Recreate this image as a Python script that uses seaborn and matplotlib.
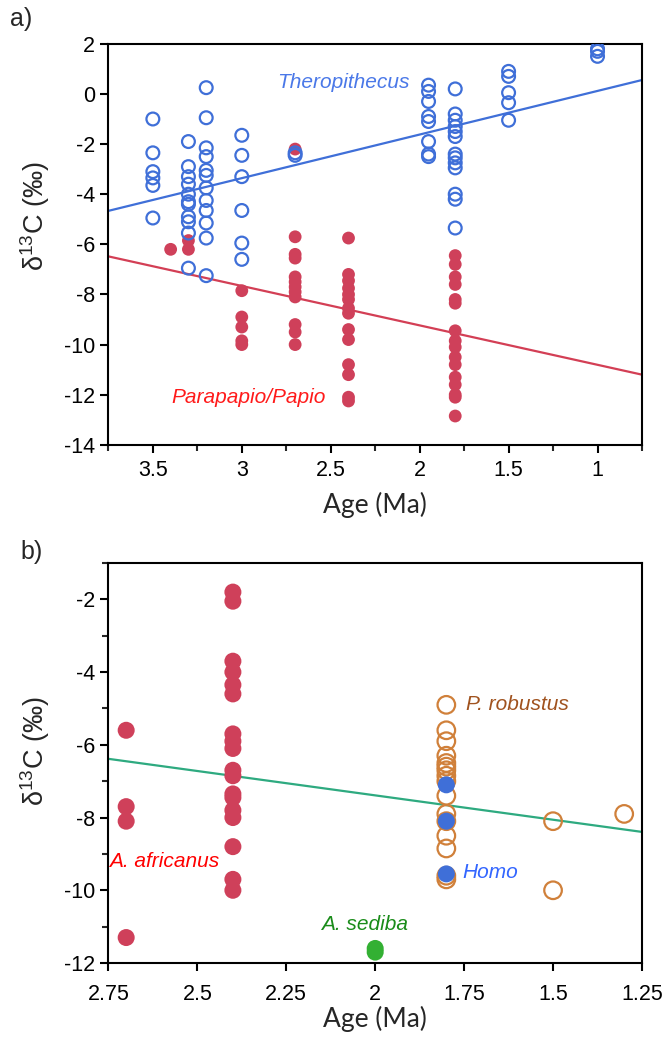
import numpy as np
import pandas as pd
import matplotlib
matplotlib.use("Agg")
import matplotlib.pyplot as plt
import seaborn as sns
from matplotlib.ticker import MultipleLocator, FormatStrFormatter

# ---- panel a: baboons / geladas ----
thero_ages = [3.5, 3.3, 3.2, 3.0, 2.7, 1.95, 1.8, 1.5, 1.0]
thero_vals = [
    [-1.0, -2.35, -3.1, -3.35, -3.65, -4.95],
    [-1.9, -2.9, -3.3, -3.6, -4.0, -4.3, -4.4, -4.9, -5.1, -5.55, -6.95],
    [0.25, -0.95, -2.15, -2.5, -3.05, -3.25, -3.75, -4.25, -4.65, -5.15, -5.75, -7.25],
    [-1.65, -2.45, -3.3, -4.65, -5.95, -6.6],
    [-2.35, -2.45],
    [0.35, 0.1, -0.3, -0.9, -1.1, -1.9, -2.4, -2.5],
    [0.2, -0.8, -1.05, -1.3, -1.5, -1.7, -2.4, -2.55, -2.75, -2.95, -4.0, -4.2, -5.35],
    [0.9, 0.7, 0.05, -0.35, -1.05],
    [1.8, 1.7, 1.5],
]

papio_ages = [3.4, 3.3, 3.0, 2.7, 2.4, 1.8]
papio_vals = [
    [-6.2],
    [-5.85, -6.2],
    [-7.85, -8.9, -9.3, -9.85, -10.0],
    [-2.2, -5.7, -6.4, -6.55, -7.3, -7.5, -7.7, -7.9, -8.1, -9.2, -9.5, -10.0],
    [-5.75, -7.2, -7.45, -7.75, -8.0, -8.2, -8.55, -8.75, -9.4, -9.8, -10.8, -11.2, -12.1, -12.25],
    [-6.45, -6.8, -7.3, -7.6, -8.2, -8.35, -9.45, -9.85, -10.1, -10.5, -10.8, -11.3, -11.6,
     -12.0, -12.1, -12.85],
]

# trend lines: d13C = intercept + slope * age
thero_trend = (1.86, -1.74)
papio_trend = (-12.38, 1.573)

# ---- panel b: hominins ----
afric_ages = [2.7, 2.4]
afric_vals = [
    [-5.6, -7.7, -8.1, -11.3],
    [-1.8, -2.05, -3.7, -4.0, -4.35, -4.6, -5.7, -5.9, -6.1, -6.7, -6.85, -7.35, -7.45,
     -7.8, -8.0, -8.8, -9.7, -10.0],
]
sediba_ages = [2.0]
sediba_vals = [[-11.6, -11.7]]
robust_ages = [1.8, 1.5, 1.3]
robust_vals = [
    [-4.9, -5.6, -5.9, -6.3, -6.5, -6.6, -6.7, -6.85, -7.0, -7.4, -7.9, -8.1, -8.5,
     -8.85, -9.6, -9.7],
    [-8.1, -10.0],
    [-7.9],
]
homo_ages = [1.8]
homo_vals = [[-7.1, -8.1, -9.55]]

hominin_trend = (-10.07, 1.34)


def to_frame(ages, vals):
    rows = [(a, v) for a, vs in zip(ages, vals) for v in vs]
    return pd.DataFrame(rows, columns=["age", "d13c"])


def trend_frame(trend, xlim):
    x = np.array(xlim)
    return pd.DataFrame({"age": x, "d13c": trend[0] + trend[1] * x})


sns.set_theme(style="ticks")
plt.rcParams["font.family"] = ["Liberation Sans", "DejaVu Sans"]
plt.rcParams["axes.unicode_minus"] = False
plt.rcParams["mathtext.default"] = "regular"

BLUE = "#3f6fd8"
RED = "#cf405a"
ORANGE = "#d0803a"
GREEN_LINE = "#2eaa80"

fig = plt.figure(figsize=(6.67, 10.43), dpi=100)
ax1 = fig.add_axes([0.1625, 0.5735, 0.8, 0.3845])
ax2 = fig.add_axes([0.1625, 0.0767, 0.8, 0.3835])

# panel a
xlim_a = (3.75, 0.75)
sns.lineplot(data=trend_frame(thero_trend, xlim_a), x="age", y="d13c", color=BLUE, lw=1.6, ax=ax1)
sns.lineplot(data=trend_frame(papio_trend, xlim_a), x="age", y="d13c", color="#d33f55", lw=1.6, ax=ax1)
sns.scatterplot(data=to_frame(papio_ages, papio_vals), x="age", y="d13c", color=RED,
                s=85, edgecolor="none", ax=ax1, zorder=3)
sns.scatterplot(data=to_frame(thero_ages, thero_vals), x="age", y="d13c", s=85,
                facecolor="none", edgecolor=BLUE, linewidth=1.6, ax=ax1, zorder=4)
ax1.set_xlim(*xlim_a)
ax1.set_ylim(-14, 2)
ax1.xaxis.set_major_locator(MultipleLocator(0.5))
ax1.xaxis.set_minor_locator(MultipleLocator(0.25))
ax1.yaxis.set_major_locator(MultipleLocator(2))
ax1.xaxis.set_major_formatter(FormatStrFormatter("%g"))
ax1.text(2.43, 0.45, "Theropithecus", color="#4a78e8", fontsize=15, style="italic",
         ha="center", va="center")
ax1.text(2.96, -12.1, "Parapapio/Papio", color="#ff1a1a", fontsize=15, style="italic",
         ha="center", va="center")
ax1.tick_params(axis="x", which="major", pad=5)
ax1.set_xlabel("Age (Ma)", fontsize=19, family="Lato", labelpad=8)
ax1.set_ylabel(r"δ$^{13}$C (‰)", fontsize=19.5)
ax1.yaxis.set_label_coords(-0.105, 0.57)
fig.text(0.015, 0.982, "a)", fontsize=18, va="center")

# panel b
xlim_b = (2.75, 1.25)
sns.lineplot(data=trend_frame(hominin_trend, xlim_b), x="age", y="d13c", color=GREEN_LINE, lw=1.6, ax=ax2)
sns.scatterplot(data=to_frame(afric_ages, afric_vals), x="age", y="d13c", color=RED,
                s=150, edgecolor="none", ax=ax2, zorder=3)
sns.scatterplot(data=to_frame(sediba_ages, sediba_vals), x="age", y="d13c", color="#33b033",
                s=150, edgecolor="none", ax=ax2, zorder=3)
sns.scatterplot(data=to_frame(robust_ages, robust_vals), x="age", y="d13c", s=160,
                facecolor="none", edgecolor=ORANGE, linewidth=1.6, ax=ax2, zorder=3)
sns.scatterplot(data=to_frame(homo_ages, homo_vals), x="age", y="d13c", color=BLUE,
                s=150, edgecolor="none", ax=ax2, zorder=4)
ax2.set_xlim(*xlim_b)
ax2.set_ylim(-12, -1)
ax2.xaxis.set_major_locator(MultipleLocator(0.25))
ax2.yaxis.set_major_locator(MultipleLocator(2))
ax2.yaxis.set_minor_locator(MultipleLocator(1))
ax2.xaxis.set_major_formatter(FormatStrFormatter("%g"))
ax2.text(1.745, -4.9, "P. robustus", color="#a0521e", fontsize=15, style="italic",
         ha="left", va="center")
ax2.text(1.755, -9.5, "Homo", color="#3366ff", fontsize=15, style="italic",
         ha="left", va="center")
ax2.text(2.747, -9.2, "A. africanus", color="#ff0000", fontsize=15, style="italic",
         ha="left", va="center")
ax2.text(2.03, -10.95, "A. sediba", color="#1a8c1a", fontsize=15, style="italic",
         ha="center", va="center")
ax2.tick_params(axis="x", which="major", pad=9)
ax2.set_xlabel("Age (Ma)", fontsize=19, family="Lato", labelpad=1)
ax2.set_ylabel(r"δ$^{13}$C (‰)", fontsize=19.5)
ax2.yaxis.set_label_coords(-0.105, 0.53)
fig.text(0.03, 0.471, "b)", fontsize=18, va="center")

for ax in (ax1, ax2):
    for sp in ax.spines.values():
        sp.set_linewidth(1.5)
        sp.set_color("black")
    ax.tick_params(which="major", length=6, width=1.5, labelsize=15.5, colors="black", direction="out")
    ax.tick_params(which="minor", length=4, width=1.5, direction="out")
    ax.tick_params(top=False, right=False, which="both")
    legend = ax.get_legend()
    if legend is not None:
        legend.remove()

fig.savefig("out.png", dpi=100)
